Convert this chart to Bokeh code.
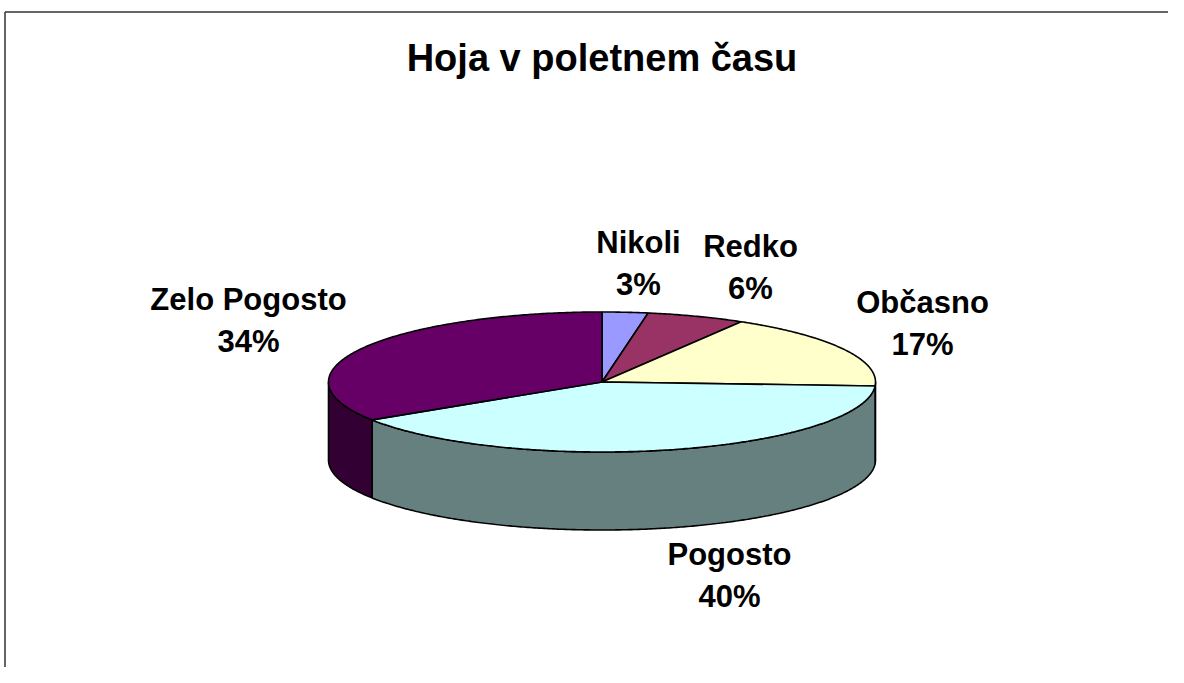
import math
from bokeh.plotting import figure
from bokeh.models import Range1d, ColumnDataSource
from bokeh.core.properties import value
from bokeh.embed import file_html
from bokeh.resources import INLINE

# ---- data ----
title = "Hoja v poletnem času"
categories = ["Nikoli", "Redko", "Občasno", "Pogosto", "Zelo Pogosto"]
shares = [2.7, 5.8, 17.4, 40.0, 34.1]
top_colors = ["#9999FF", "#993366", "#FFFFCC", "#CCFFFF", "#660066"]
side_colors = ["#4D4D80", "#4D1A33", "#808066", "#668080", "#330033"]

# ---- layout (screen pixel coordinates) ----
W, H = 1168, 667
cx, cy = 601.5, 381.5
rx, ry = 273.5, 70.0
depth = 78.0
# label baseline positions (name line), percent line is 42px lower
label_xy = {
    "Nikoli": (638, 242),
    "Redko": (750, 246),
    "Občasno": (922, 302),
    "Pogosto": (729, 554),
    "Zelo Pogosto": (248, 299),
}
line_gap = 42

p = figure(width=W, height=H, output_backend="svg", toolbar_location=None,
           x_range=Range1d(0, W), y_range=Range1d(H, 0),
           min_border=0, background_fill_color="white", border_fill_color="white")
p.axis.visible = False
p.grid.visible = False
p.outline_line_color = None


def pt(theta_deg, dz=0.0):
    t = math.radians(theta_deg)
    return cx + rx * math.sin(t), cy - ry * math.cos(t) + dz


total = sum(shares)
bounds = []
acc = 0.0
for s in shares:
    a0 = acc / total * 360.0
    acc += s
    a1 = acc / total * 360.0
    bounds.append((a0, a1))

# side walls (front half only: 90..270 degrees)
wx, wy, wc = [], [], []
for (a0, a1), col in zip(bounds, side_colors):
    lo, hi = max(a0, 90.0), min(a1, 270.0)
    if hi <= lo:
        continue
    n = max(4, int((hi - lo) * 2))
    top = [pt(lo + (hi - lo) * i / n) for i in range(n + 1)]
    bot = [pt(lo + (hi - lo) * i / n, depth) for i in range(n, -1, -1)]
    poly = top + bot
    wx.append([q[0] for q in poly])
    wy.append([q[1] for q in poly])
    wc.append(col)
p.patches(xs=wx, ys=wy, fill_color=wc, line_color="black", line_width=1.6)

# top faces
fx, fy = [], []
for (a0, a1) in bounds:
    n = max(4, int((a1 - a0) * 2))
    arc = [pt(a0 + (a1 - a0) * i / n) for i in range(n + 1)]
    poly = [(cx, cy)] + arc
    fx.append([q[0] for q in poly])
    fy.append([q[1] for q in poly])
p.patches(xs=fx, ys=fy, fill_color=top_colors, line_color="black", line_width=1.6)

# labels
names_src = ColumnDataSource(dict(
    x=[label_xy[c][0] for c in categories],
    y=[label_xy[c][1] for c in categories],
    t=categories))
pct_src = ColumnDataSource(dict(
    x=[label_xy[c][0] for c in categories],
    y=[label_xy[c][1] + line_gap for c in categories],
    t=["%d%%" % round(s / total * 100) for s in shares]))
for src in (names_src, pct_src):
    p.text(x="x", y="y", text="t", source=src, text_align="center",
           text_baseline="alphabetic", text_font=value("Liberation Sans"),
           text_font_style="bold", text_font_size="31px", text_color="black")

# title
p.text(x=[cx], y=[57], text=[title], text_align="center", text_baseline="alphabetic",
       text_font=value("Liberation Sans"), text_font_style="bold",
       text_font_size="38px", text_color="black")

# chart area border (top and left)
p.line(x=[4.5, W], y=[11.5, 11.5], line_color="#333333", line_width=1.5)
p.line(x=[4.5, 4.5], y=[11.5, H], line_color="#333333", line_width=1.5)
# keep right edge clean
p.line(x=[W - 1, W - 1], y=[12.5, H], line_color="white", line_width=3)

open("out.html", "w").write(file_html(p, INLINE))
